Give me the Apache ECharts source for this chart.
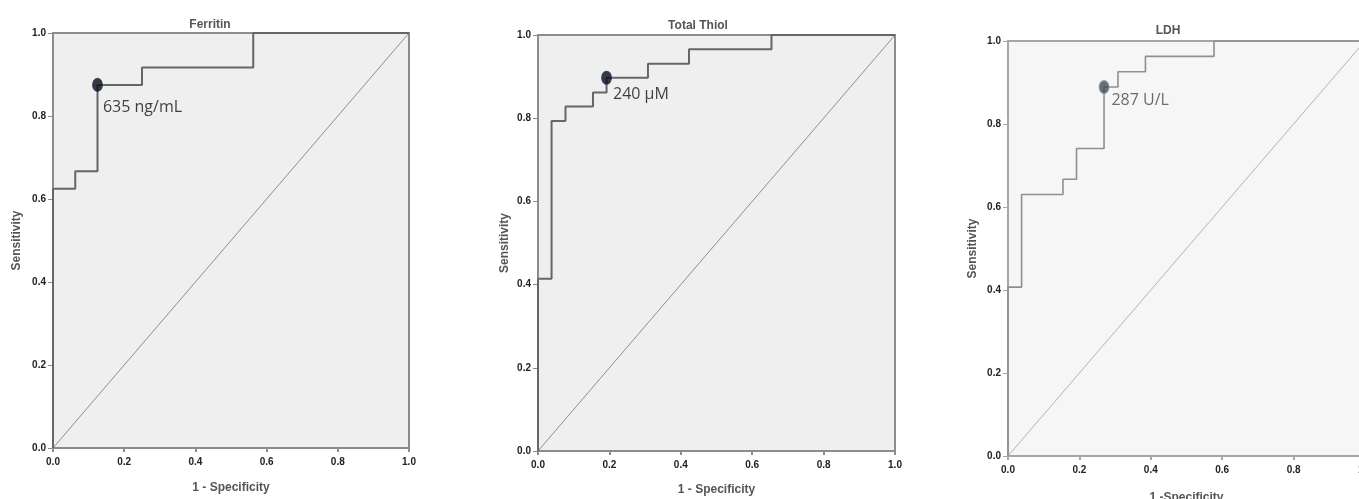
<!DOCTYPE html>
<html>
<head>
<meta charset="utf-8">
<script src="https://cdn.jsdelivr.net/npm/echarts@6/dist/echarts.min.js"></script>
<style>
  html, body { margin: 0; padding: 0; background: #fff; overflow: hidden; }
  #chart { width: 1359px; height: 499px; }
</style>
</head>
<body>
<div id="chart"></div>
<script>
// ROC points (1 - specificity, sensitivity), drawn as steps
const ferritinFpr = [0, 0, 0.0625, 0.125, 0.25, 0.5625, 1]
const ferritinTpr = [0, 0.625, 0.667, 0.875, 0.917, 1, 1]
const thiolFpr = [0, 0, 0.038, 0.077, 0.154, 0.192, 0.308, 0.423, 0.654, 1]
const thiolTpr = [0, 0.414, 0.793, 0.828, 0.862, 0.897, 0.931, 0.966, 1, 1]
const ldhFpr = [0, 0, 0.038, 0.154, 0.192, 0.269, 0.308, 0.385, 0.577, 1]
const ldhTpr = [0, 0.407, 0.630, 0.667, 0.741, 0.889, 0.926, 0.963, 1, 1]

// optimal cut-off points
const ferritinCut = [0.125, 0.875]
const thiolCut = [0.192, 0.897]
const ldhCut = [0.269, 0.889]

const panelTitles = ['Ferritin', 'Total Thiol', 'LDH']
const cutLabels = ['635 ng/mL', '240 µM', '287 U/L']
const xName = ['1 - Specificity', '1 - Specificity', '1 -Specificity']
const yName = 'Sensitivity'

const pairs = (xs, ys) => xs.map((x, i) => [x, ys[i]])

// the last panel runs past the right edge of the picture, as in the source figure
const grids = [
    {left: 53, top: 33, width: 356, height: 415, bg: '#efefef', border: '#8c8c8c', line: '#666', diag: '#8e8e8e', lw: 2, dot: '#0b0b16', dotEdge: '#1d3768', text: '#111'},
    {left: 538, top: 35, width: 357, height: 416, bg: '#efefef', border: '#8c8c8c', line: '#666', diag: '#8e8e8e', lw: 2, dot: '#0b0b16', dotEdge: '#1d3768', text: '#111'},
    {left: 1008, top: 41, width: 357, height: 415, bg: '#f6f6f6', border: '#a6a6a6', line: '#8f8f8f', diag: '#b3b3b3', lw: 1.6, dot: '#4a4d52', dotEdge: '#7d9cc4', text: '#4a4a4a'}
]
const nameGapsY = [30, 27, 29]
const nameGapsX = [34, 33, 36]
const titleX = [205, 693, 1163]
const titleY = [14, 15, 20]

const rocData = [pairs(ferritinFpr, ferritinTpr), pairs(thiolFpr, thiolTpr), pairs(ldhFpr, ldhTpr)]
const cuts = [ferritinCut, thiolCut, ldhCut]
const labelOffsets = [[-1, 23], [0, 17], [1, 13]]

const tickLabel = {fontFamily: 'Liberation Sans', fontWeight: 'bold', fontSize: 10, color: '#222'}
const nameStyle = {fontFamily: 'Liberation Sans', fontWeight: 'bold', fontSize: 12, color: '#555'}

const chart = echarts.init(document.getElementById('chart'))

const option = {
    animation: false,
    title: panelTitles.map((t, i) => ({
        text: t,
        left: titleX[i],
        top: titleY[i],
        textAlign: 'center',
        textStyle: {fontFamily: 'Liberation Sans', fontWeight: 'bold', fontSize: 12, color: '#555'}
    })),
    grid: grids.map(g => ({
        left: g.left, top: g.top, width: g.width, height: g.height,
        outerBoundsMode: 'none',
        show: true, backgroundColor: g.bg, borderColor: g.border, borderWidth: 2
    })),
    xAxis: grids.map((g, i) => ({
        type: 'value', gridIndex: i, min: 0, max: 1, interval: 0.2,
        name: xName[i], nameLocation: 'middle', nameGap: nameGapsX[i], nameTextStyle: nameStyle,
        axisLine: {show: true, lineStyle: {color: g.border, width: 2}},
        axisTick: {show: true, length: 4, lineStyle: {color: g.border, width: 2}},
        axisLabel: Object.assign({margin: 9, formatter: v => v.toFixed(1)}, tickLabel),
        splitLine: {show: false}
    })),
    yAxis: grids.map((g, i) => ({
        type: 'value', gridIndex: i, min: 0, max: 1, interval: 0.2,
        name: yName, nameLocation: 'middle', nameGap: nameGapsY[i], nameTextStyle: nameStyle,
        axisLine: {show: true, lineStyle: {color: g.border, width: 2}},
        axisTick: {show: true, length: 5, lineStyle: {color: g.border, width: 1}},
        axisLabel: Object.assign({margin: 7, formatter: v => v.toFixed(1)}, tickLabel),
        splitLine: {show: false}
    })),
    series: []
}

grids.forEach((g, i) => {
    // chance diagonal
    option.series.push({
        type: 'line', xAxisIndex: i, yAxisIndex: i,
        data: [[0, 0], [1, 1]], symbol: 'none', silent: true,
        lineStyle: {color: g.diag, width: 1}
    })
    // ROC curve
    option.series.push({
        type: 'line', xAxisIndex: i, yAxisIndex: i, step: 'end',
        data: rocData[i], symbol: 'none', silent: true,
        lineStyle: {color: g.line, width: g.lw}
    })
    // cut-off point
    option.series.push({
        type: 'scatter', xAxisIndex: i, yAxisIndex: i,
        data: [cuts[i]], symbol: 'circle', symbolSize: [10, 13], z: 5,
        itemStyle: {color: g.dot, borderColor: g.dotEdge, borderWidth: 1},
        label: {
            show: true, position: 'right', distance: 1, offset: labelOffsets[i],
            formatter: cutLabels[i],
            fontFamily: 'Open Sans', fontSize: 16, color: g.text
        }
    })
})

chart.setOption(option)
</script>
</body>
</html>
